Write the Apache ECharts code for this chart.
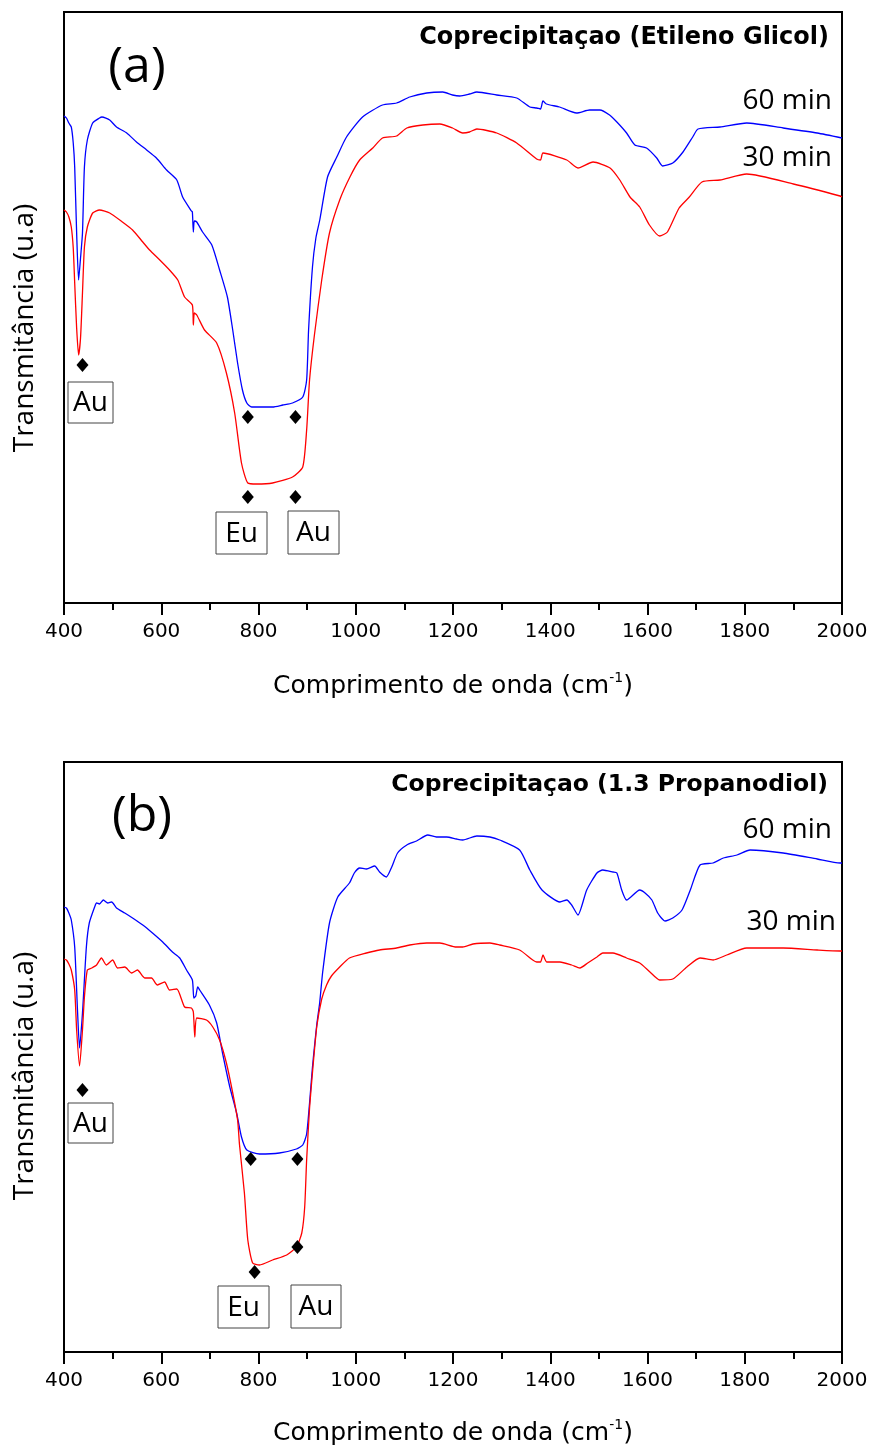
<!DOCTYPE html>
<html>
<head>
<meta charset="utf-8">
<script src="https://cdn.jsdelivr.net/npm/echarts@6/dist/echarts.min.js"></script>
<style>html,body{margin:0;padding:0;background:#fff}#c{width:871px;height:1450px}</style>
</head>
<body>
<div id="c"></div>
<script>
// x axis (wavenumber, cm-1)
const xMin = 400, xMax = 2000, xStep = 200;
// y: transmittance, arbitrary units
const yMaxA = 59.1, yMaxB = 59.0;

// Panel (a) Etileno Glicol - 60 min
const a60 = [[400,48.7],[405,48.5],[410,48.0],[415,47.6],[419,46.0],[422,43.6],[426,37.0],[430,32.3],[434,34.5],[438,37.0],[442,43.6],[448,46.3],[459,48.0],[473,48.5],[478,48.6],[494,48.3],[508,47.6],[529,47.0],[549,46.1],[570,45.3],[590,44.5],[611,43.3],[632,42.3],[644,40.6],[662,39.2],[664,39.1],[666,37.1],[668,38.2],[673,38.1],[685,37.1],[704,35.8],[720,33.3],[736,30.6],[747,27.3],[757,24.0],[767,21.3],[776,20.0],[786,19.6],[829,19.6],[850,19.8],[870,20.0],[891,20.6],[899,22.3],[903,27.3],[911,33.6],[918,36.5],[926,38.3],[942,42.6],[961,44.6],[981,46.6],[1014,48.6],[1055,49.8],[1084,50.0],[1111,50.6],[1146,51.0],[1179,51.1],[1199,50.8],[1214,50.7],[1234,50.9],[1249,51.1],[1290,50.8],[1331,50.5],[1358,49.6],[1372,49.5],[1380,49.4],[1385,50.2],[1392,49.9],[1419,49.6],[1454,49.0],[1481,49.3],[1502,49.3],[1522,48.8],[1537,48.1],[1557,47.0],[1574,45.8],[1598,45.5],[1619,44.5],[1631,43.7],[1652,44.0],[1673,45.1],[1693,46.6],[1704,47.4],[1749,47.6],[1804,48.0],[1879,47.5],[1949,47.0],[2000,46.5]];
// Panel (a) - 30 min
const a30 = [[400,39.3],[405,39.1],[410,38.6],[415,37.6],[419,35.5],[422,32.0],[426,27.5],[430,24.8],[434,26.5],[438,31.0],[442,35.6],[448,37.6],[459,39.0],[473,39.3],[494,39.0],[520,38.1],[541,37.3],[562,36.1],[576,35.3],[597,34.3],[617,33.3],[634,32.3],[648,30.6],[664,29.8],[666,27.8],[668,29.0],[673,28.8],[689,27.3],[714,26.0],[734,23.0],[751,19.0],[765,14.0],[778,12.0],[796,11.9],[829,12.0],[870,12.6],[891,13.6],[899,17.3],[905,22.3],[915,26.8],[930,32.3],[946,37.0],[967,40.3],[988,42.6],[1008,44.3],[1035,45.5],[1055,46.5],[1084,46.7],[1105,47.5],[1138,47.8],[1173,47.9],[1199,47.5],[1220,47.0],[1234,47.1],[1249,47.4],[1290,47.0],[1331,46.0],[1372,44.4],[1380,44.3],[1385,45.0],[1434,44.3],[1457,43.5],[1488,44.1],[1523,43.5],[1543,42.3],[1564,40.6],[1584,39.6],[1604,37.8],[1625,36.7],[1641,37.1],[1665,39.5],[1686,40.6],[1712,42.1],[1749,42.3],[1804,42.9],[1900,41.9],[1996,40.7],[2000,40.6]];
// Panel (b) 1.3 Propanodiol - 60 min
const b60 = [[400,44.5],[405,44.4],[410,43.9],[415,43.2],[422,40.5],[428,33.9],[432,30.4],[438,33.9],[446,40.5],[452,42.9],[463,44.5],[467,44.9],[473,44.8],[481,45.2],[490,44.9],[498,45.0],[508,44.4],[525,43.9],[541,43.4],[562,42.7],[582,41.9],[603,41.0],[623,40.0],[638,39.4],[652,38.2],[664,37.2],[667,35.4],[671,35.6],[675,36.5],[679,36.2],[699,34.7],[714,32.9],[726,29.9],[741,26.5],[755,23.9],[765,21.5],[776,20.2],[802,19.8],[843,19.9],[878,20.3],[891,20.7],[899,21.8],[905,24.9],[911,28.5],[915,30.5],[920,32.8],[926,35.0],[932,38.0],[946,42.9],[963,45.5],[987,46.9],[997,47.9],[1008,48.4],[1022,48.3],[1039,48.6],[1049,48.0],[1063,47.5],[1074,48.5],[1086,49.9],[1105,50.7],[1125,51.1],[1148,51.7],[1166,51.5],[1187,51.5],[1207,51.3],[1220,51.2],[1249,51.6],[1276,51.5],[1296,51.2],[1337,50.2],[1358,48.2],[1383,46.2],[1420,45.0],[1434,45.2],[1444,44.7],[1457,43.7],[1475,46.2],[1496,47.9],[1508,48.2],[1529,48.0],[1537,47.9],[1547,46.2],[1557,45.2],[1584,46.2],[1595,45.9],[1609,45.2],[1621,43.9],[1636,43.1],[1652,43.4],[1671,44.2],[1688,46.2],[1708,48.7],[1735,48.9],[1756,49.4],[1784,49.7],[1811,50.2],[1879,49.9],[1949,49.3],[1996,48.9],[2000,48.9]];
// Panel (b) - 30 min
const b30 = [[400,39.3],[405,39.2],[410,38.8],[415,38.2],[422,36.2],[426,32.2],[432,28.6],[438,32.2],[442,35.5],[448,38.2],[457,38.4],[467,38.7],[477,39.4],[487,38.7],[500,39.2],[510,38.4],[525,38.5],[539,37.9],[551,38.2],[566,37.4],[580,37.4],[592,36.7],[607,37.0],[617,36.2],[632,36.3],[648,34.5],[662,34.4],[666,34.0],[669,31.5],[673,33.4],[693,33.2],[706,32.5],[720,31.2],[734,28.9],[747,25.9],[757,23.2],[761,20.7],[771,15.9],[778,11.2],[788,8.9],[802,8.7],[829,9.2],[858,9.7],[878,10.5],[889,11.9],[895,14.5],[899,19.2],[905,24.4],[912,28.5],[920,32.6],[930,35.3],[940,36.7],[950,37.6],[967,38.5],[987,39.4],[1022,39.9],[1049,40.2],[1084,40.4],[1111,40.7],[1146,40.9],[1173,40.9],[1207,40.5],[1220,40.5],[1241,40.8],[1276,40.9],[1296,40.7],[1337,40.2],[1364,39.2],[1372,39.0],[1380,39.0],[1385,39.7],[1393,39.0],[1420,39.0],[1444,38.7],[1461,38.4],[1477,38.9],[1496,39.5],[1508,39.9],[1529,39.9],[1557,39.4],[1584,38.9],[1605,38.0],[1625,37.2],[1652,37.3],[1681,38.5],[1708,39.4],[1735,39.2],[1763,39.7],[1804,40.4],[1879,40.4],[1949,40.2],[1996,40.1],[2000,40.1]];

// band markers (diamonds)
const markA = [[438,23.8],[778,18.6],[876,18.6],[778,10.6],[876,10.6]];
const markB = [[438,26.2],[784,19.3],[880,19.3],[792,8.0],[880,10.5]];

const titles = ['Coprecipitaçao (Etileno Glicol)', 'Coprecipitaçao (1.3 Propanodiol)'];
const panelLetters = ['(a)', '(b)'];
const seriesNames = ['60 min', '30 min'];
const xTitle = '{t|Comprimento de onda (cm}{s|-1}{t|)}';
const yTitle = 'Transmitância (u.a)';

const chart = echarts.init(document.getElementById('c'), null, {renderer: 'canvas'});

function xAxisCfg(gi) {
  return {
    type: 'value', gridIndex: gi, min: xMin, max: xMax, interval: xStep,
    name: xTitle, nameLocation: 'middle', nameGap: gi === 0 ? 68 : 66,
    nameTextStyle: {rich: {
      t: {fontFamily: 'DejaVu Sans', fontSize: 25, color: '#000', lineHeight: 30},
      s: {fontFamily: 'DejaVu Sans', fontSize: 14, color: '#000', lineHeight: 14, verticalAlign: 'top'}
    }},
    axisLine: {show: true, lineStyle: {color: '#000', width: 2}},
    axisTick: {show: true, length: 12, inside: false, lineStyle: {color: '#000', width: 2}},
    minorTick: {show: true, splitNumber: 2, length: 7, lineStyle: {color: '#000', width: 2}},
    axisLabel: {color: '#000', fontFamily: 'DejaVu Sans', fontSize: 20, margin: 19,
      formatter: function (v) { return String(v); }},
    splitLine: {show: false}, minorSplitLine: {show: false}
  };
}
function yAxisCfg(gi, ymax) {
  return {type: 'value', gridIndex: gi, min: 0, max: ymax, show: false, splitLine: {show: false}};
}
function lineS(data, color, gi, name) {
  return {type: 'line', name: name, xAxisIndex: gi, yAxisIndex: gi, data: data, showSymbol: false,
    symbol: 'none', smooth: 0.2, lineStyle: {color: color, width: 1.3}, itemStyle: {color: color}, z: 3, silent: true};
}
function markS(data, gi) {
  return {type: 'scatter', xAxisIndex: gi, yAxisIndex: gi, data: data, symbol: 'diamond',
    symbolSize: [12, 14], itemStyle: {color: '#000', opacity: 1}, z: 5, silent: true};
}
function txt(x, y, s, font, align, vAlign, extra) {
  return Object.assign({type: 'text', x: x, y: y, z: 10, silent: true,
    style: {text: s, font: font, fill: '#000', textAlign: align, align: align,
      textVerticalAlign: vAlign, verticalAlign: vAlign}}, extra || {});
}
function box(cx, cy, w, h, s) {
  return [
    {type: 'rect', z: 9, silent: true, shape: {x: cx - w / 2, y: cy - h / 2, width: w, height: h},
      style: {fill: '#fff', stroke: '#444', lineWidth: 1}},
    txt(cx, cy + 1, s, '28px "Open Sans"', 'center', 'middle')
  ];
}

const graphics = [].concat(
  [txt(137, 68, panelLetters[0], '50px "Open Sans"', 'center', 'middle'),
   txt(142, 817, panelLetters[1], '50px "Open Sans"', 'center', 'middle'),
   txt(829, 38, titles[0], 'bold 24px "DejaVu Sans"', 'right', 'middle'),
   txt(828, 785, titles[1], 'bold 23.5px "DejaVu Sans"', 'right', 'middle'),
   txt(832, 101, seriesNames[0], '28px "Open Sans"', 'right', 'middle'),
   txt(832, 158, seriesNames[1], '28px "Open Sans"', 'right', 'middle'),
   txt(832, 830, seriesNames[0], '28px "Open Sans"', 'right', 'middle'),
   txt(836, 922, seriesNames[1], '28px "Open Sans"', 'right', 'middle'),
   txt(25, 328, yTitle, '28px "Open Sans"', 'center', 'middle', {rotation: Math.PI / 2}),
   txt(25, 1076, yTitle, '28px "Open Sans"', 'center', 'middle', {rotation: Math.PI / 2})],
  box(90.5, 402.5, 45, 41, 'Au'), box(241.5, 533, 51, 42, 'Eu'), box(313.5, 532.5, 51, 43, 'Au'),
  box(90.5, 1123, 45, 40, 'Au'), box(243.5, 1307, 51, 42, 'Eu'), box(316, 1306.5, 50, 43, 'Au')
);

chart.setOption({
  animation: false,
  backgroundColor: '#fff',
  grid: [
    {left: 64, top: 12, width: 778, height: 591, show: true, borderColor: '#000', borderWidth: 2, backgroundColor: 'transparent'},
    {left: 64, top: 762, width: 778, height: 590, show: true, borderColor: '#000', borderWidth: 2, backgroundColor: 'transparent'}
  ],
  xAxis: [xAxisCfg(0), xAxisCfg(1)],
  yAxis: [yAxisCfg(0, yMaxA), yAxisCfg(1, yMaxB)],
  series: [
    lineS(a60, '#0000ff', 0, '60 min'), lineS(a30, '#ff0000', 0, '30 min'), markS(markA, 0),
    lineS(b60, '#0000ff', 1, '60 min'), lineS(b30, '#ff0000', 1, '30 min'), markS(markB, 1)
  ],
  graphic: graphics
});
</script>
</body>
</html>
